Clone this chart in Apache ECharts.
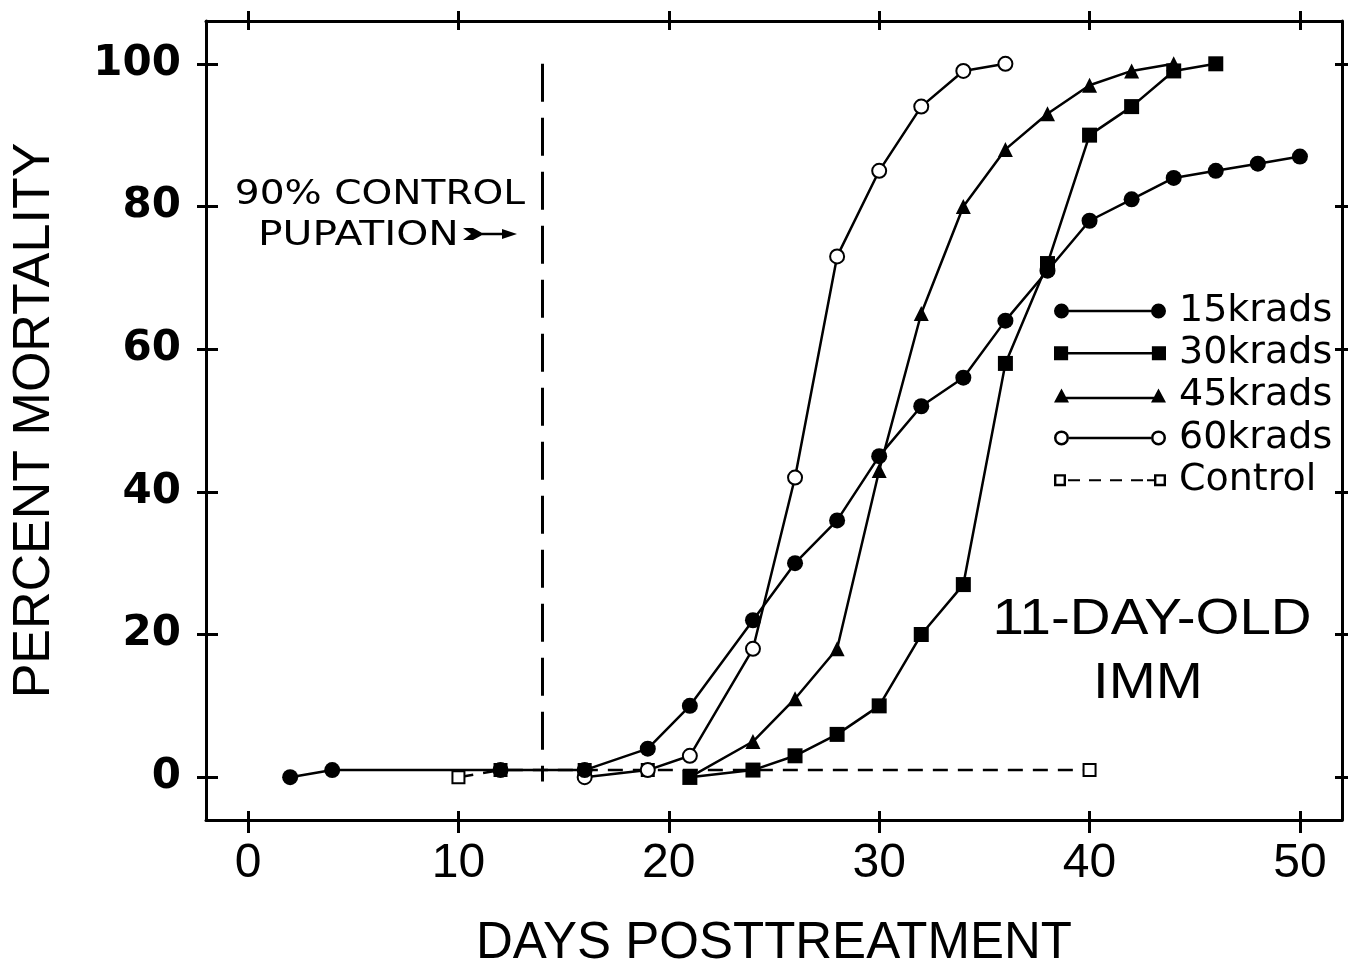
<!DOCTYPE html>
<html><head><meta charset="utf-8">
<script src="https://cdn.jsdelivr.net/npm/echarts@6/dist/echarts.min.js"></script>
<style>html,body{margin:0;padding:0;background:#fff}#c{width:1348px;height:971px}</style>
</head><body><div id="c"></div>
<script>
// ---- data ----
const xTicks = [0, 10, 20, 30, 40, 50];
const yTicks = [0, 20, 40, 60, 80, 100];
const seriesNames = ['15krads', '30krads', '45krads', '60krads', 'Control'];
const days15 = [2, 4, 12, 16, 19, 21, 24, 26, 28, 30, 32, 34, 36, 38, 40, 42, 44, 46, 48, 50];
const mort15 = [0, 1, 1, 1, 4, 10, 22, 30, 36, 45, 52, 56, 64, 71, 78, 81, 84, 85, 86, 87];
const days30 = [21, 24, 26, 28, 30, 32, 34, 36, 38, 40, 42, 44, 46];
const mort30 = [0, 1, 3, 6, 10, 20, 27, 58, 72, 90, 94, 99, 100];
const days45 = [21, 24, 26, 28, 30, 32, 34, 36, 38, 40, 42, 44];
const mort45 = [0, 5, 11, 18, 43, 65, 80, 88, 93, 97, 99, 100];
const days60 = [16, 19, 21, 24, 26, 28, 30, 32, 34, 36];
const mort60 = [0, 1, 3, 18, 42, 73, 85, 94, 99, 100];
const daysCtl = [10, 12, 16, 19, 40];
const mortCtl = [0, 1, 1, 1, 1];
const pupationDay = 14;          // 90% control pupation
const pupationRange = [100, -0.6];

const zip = (a, b) => a.map((v, i) => [v, b[i]]);

// ---- legend icons (line with marker at both ends) ----
const circ = (cx, cy, r, cw) => cw
  ? `M${cx - r} ${cy} A${r} ${r} 0 1 1 ${cx + r} ${cy} A${r} ${r} 0 1 1 ${cx - r} ${cy} Z `
  : `M${cx - r} ${cy} A${r} ${r} 0 1 0 ${cx + r} ${cy} A${r} ${r} 0 1 0 ${cx - r} ${cy} Z `;
const iconFilledCircle = 'path://' + circ(7.5, 7.5, 7.5, true) + circ(104.5, 7.5, 7.5, true) + 'M7.5 6.25 H104.5 V8.75 H7.5 Z';
const iconOpenCircle = 'path://' + circ(7.5, 7.5, 7.5, true) + circ(7.5, 7.5, 5, false) +
  circ(104.5, 7.5, 7.5, true) + circ(104.5, 7.5, 5, false) + 'M15 6.25 H97 V8.75 H15 Z';
const iconSquare = 'path://M0.5 0.5 H14.5 V14.5 H0.5 Z M97.5 0.5 H111.5 V14.5 H97.5 Z M7.5 6.25 H104.5 V8.75 H7.5 Z';
const iconTriangle = 'path://M7.5 0 L15 14 L0 14 Z M104.5 0 L112 14 L97 14 Z M7.5 8.25 H104.5 V10.75 H7.5 Z';
const iconControl = 'path://M0 1.5 H12 V13.5 H0 Z M2.4 3.9 V11.1 H9.6 V3.9 Z ' +
  'M100 1.5 H112 V13.5 H100 Z M102.4 3.9 V11.1 H109.6 V3.9 Z ' +
  'M14 6.5 H26 V8.5 H14 Z M35 6.5 H47 V8.5 H35 Z M56 6.5 H68 V8.5 H56 Z M77 6.5 H89 V8.5 H77 Z M93 6.5 H100 V8.5 H93 Z';
const legendIcons = [iconFilledCircle, iconSquare, iconTriangle, iconOpenCircle, iconControl];

const X_MIN = -2, X_MAX = 52, Y_MIN = -6, Y_MAX = 106;
const black = '#000';

function xAx(position, inside, len, showLine, showLabel) {
  return {
    type: 'value', min: X_MIN, max: X_MAX, position: position,
    splitLine: { show: false },
    axisLine: { show: showLine, onZero: false, lineStyle: { color: black, width: 3 } },
    axisTick: { show: true, inside: inside, length: len, customValues: xTicks, lineStyle: { color: black, width: 3 } },
    axisLabel: showLabel ? {
      show: true, customValues: xTicks, margin: 20, color: black,
      fontFamily: 'Liberation Sans', fontSize: 48
    } : { show: false }
  };
}
function yAx(position, inside, len, showLine, showLabel) {
  return {
    type: 'value', min: Y_MIN, max: Y_MAX, position: position,
    splitLine: { show: false },
    axisLine: { show: showLine, onZero: false, lineStyle: { color: black, width: 3 } },
    axisTick: { show: true, inside: inside, length: len, customValues: yTicks, lineStyle: { color: black, width: 3 } },
    axisLabel: showLabel ? {
      show: true, customValues: yTicks, margin: 25, color: black,
      fontFamily: 'DejaVu Sans', fontWeight: 'bold', fontSize: 42
    } : { show: false }
  };
}

const xAxes = [xAx('bottom', false, 13, true, true), xAx('bottom', true, 9, false, false),
               xAx('top', false, 10, true, false), xAx('top', true, 9, false, false)];
xAxes[0].name = 'DAYS POSTTREATMENT';
xAxes[0].nameLocation = 'middle';
xAxes[0].nameGap = 98;
xAxes[0].nameTextStyle = { fontFamily: 'Liberation Sans', fontSize: 51, color: black };

const yAxes = [yAx('left', false, 9, true, true), yAx('left', true, 12, false, false),
               yAx('right', false, 6, true, false), yAx('right', true, 7, false, false)];
yAxes[0].name = 'PERCENT MORTALITY';
yAxes[0].nameLocation = 'middle';
yAxes[0].nameGap = 145;
yAxes[0].nameTextStyle = { fontFamily: 'Liberation Sans', fontSize: 52, color: black };

function lineSeries(name, data, symbol, size, extra) {
  return Object.assign({
    name: name, type: 'line', data: data, symbol: symbol, symbolSize: size,
    xAxisIndex: 0, yAxisIndex: 0, animation: false, silent: true,
    lineStyle: { color: black, width: 2.5 },
    itemStyle: { color: black, borderWidth: 0 }
  }, extra || {});
}

const series = [
  lineSeries('Control', zip(daysCtl, mortCtl), 'emptyRect', 12, {
    lineStyle: { color: black, width: 2.5, type: [15, 10] },
    itemStyle: { color: black, borderColor: black, borderWidth: 2.2 },
    z: 2,
    markLine: {
      silent: true, symbol: ['none', 'none'], label: { show: false }, animation: false,
      lineStyle: { color: black, width: 3, type: [38, 16] },
      data: [[{ coord: [pupationDay, pupationRange[0]] }, { coord: [pupationDay, pupationRange[1]] }]]
    }
  }),
  lineSeries('45krads', zip(days45, mort45), 'triangle', 15, { z: 3 }),
  lineSeries('30krads', zip(days30, mort30), 'rect', 15, { z: 4 }),
  lineSeries('60krads', zip(days60, mort60), 'emptyCircle', 14, {
    itemStyle: { color: black, borderColor: black, borderWidth: 2.5 }, z: 5
  }),
  lineSeries('15krads', zip(days15, mort15), 'circle', 16, { z: 6 })
];

const textFont = (size, fam) => `${size}px "${fam}"`;

const chart = echarts.init(document.getElementById('c'), null, { renderer: 'canvas' });
chart.setOption({
  backgroundColor: '#fff',
  animation: false,
  grid: { left: 206, right: 6, top: 21, bottom: 151, outerBoundsMode: 'none', containLabel: false },
  xAxis: xAxes,
  yAxis: yAxes,
  legend: {
    orient: 'vertical', left: 1054, top: 290, padding: 0,
    itemWidth: 112, itemHeight: 16, itemGap: 0.3, selectedMode: false,
    symbolKeepAspect: true,
    data: seriesNames.map((n, i) => ({ name: n, icon: legendIcons[i], itemStyle: { color: black, borderWidth: 0 } })),
    textStyle: { fontFamily: 'DejaVu Sans', fontSize: 38, color: black, lineHeight: 42, padding: [0, 0, 0, 8] }
  },
  graphic: [
    { type: 'text', x: 380, y: 195, scaleX: 1.15, silent: true,
      style: { text: '90% CONTROL', x: 0, y: 0, fill: black, font: textFont(34, 'DejaVu Sans'),
               textAlign: 'center', textVerticalAlign: 'middle', align: 'center', verticalAlign: 'middle' } },
    { type: 'text', x: 258, y: 236, scaleX: 1.2, silent: true,
      style: { text: 'PUPATION', x: 0, y: 0, fill: black, font: textFont(34, 'DejaVu Sans'),
               textAlign: 'left', textVerticalAlign: 'middle', align: 'left', verticalAlign: 'middle' } },
    { type: 'polygon', silent: true,
      shape: { points: [[463, 228], [473, 228], [484, 234], [473, 240], [463, 240], [471, 234]] },
      style: { fill: black } },
    { type: 'line', silent: true, shape: { x1: 482, y1: 234, x2: 506, y2: 234 },
      style: { stroke: black, lineWidth: 2.5 } },
    { type: 'polygon', silent: true, shape: { points: [[502, 229], [517, 234], [502, 239]] },
      style: { fill: black } },
    { type: 'text', x: 1152, y: 620, scaleX: 1.13, silent: true,
      style: { text: '11-DAY-OLD', x: 0, y: 0, fill: black, font: textFont(50, 'Liberation Sans'),
               textAlign: 'center', textVerticalAlign: 'middle', align: 'center', verticalAlign: 'middle' } },
    { type: 'text', x: 1148, y: 684, scaleX: 1.13, silent: true,
      style: { text: 'IMM', x: 0, y: 0, fill: black, font: textFont(50, 'Liberation Sans'),
               textAlign: 'center', textVerticalAlign: 'middle', align: 'center', verticalAlign: 'middle' } }
  ],
  series: series
});
</script>
</body></html>
